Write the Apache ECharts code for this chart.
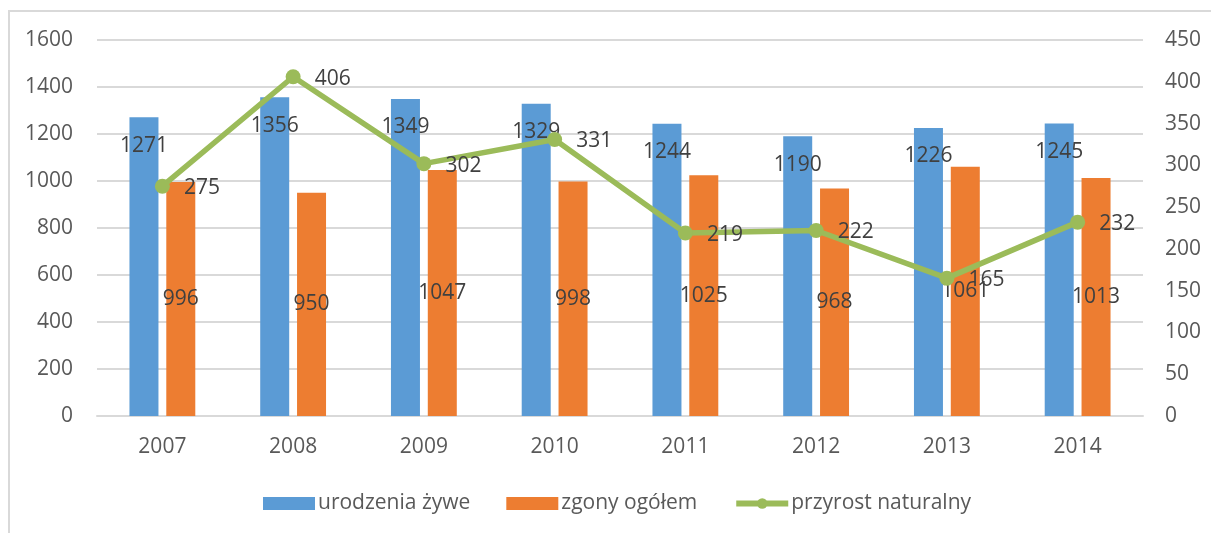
<!DOCTYPE html>
<html>
<head>
<meta charset="utf-8">
<script src="https://cdn.jsdelivr.net/npm/echarts@6/dist/echarts.min.js"></script>
<style>
  html, body { margin: 0; padding: 0; background: #fff; overflow: hidden; }
  #chart { position: absolute; left: 0; top: 0; width: 1211px; height: 533px; }
  #ramka { position: absolute; left: 8px; top: 10px; width: 1260px; height: 600px;
           border: 2px solid #d9d9d9; pointer-events: none; }
</style>
</head>
<body>
<div id="chart"></div>
<div id="ramka"></div>
<script>
// lata
var lata = ['2007', '2008', '2009', '2010', '2011', '2012', '2013', '2014'];
// urodzenia żywe
var urodzenia = [1271, 1356, 1349, 1329, 1244, 1190, 1226, 1245];
// zgony ogółem
var zgony = [996, 950, 1047, 998, 1025, 968, 1061, 1013];
// przyrost naturalny
var przyrost = [275, 406, 302, 331, 219, 222, 165, 232];

var chart = echarts.init(document.getElementById('chart'));
var czcionka = "'Open Sans', 'Noto Sans', sans-serif";

var option = {
    backgroundColor: '#fff',
    animation: false,
    textStyle: { fontFamily: czcionka },
    grid: { left: 97, right: 68, top: 40, bottom: 117 },
    legend: {
        left: 258,
        top: 488,
        itemWidth: 52,
        itemHeight: 13,
        itemGap: 36,
        textStyle: { color: '#595959', fontSize: 21, fontFamily: czcionka, padding: [0, 0, 0, -2] },
        data: [
            { name: 'urodzenia żywe', icon: 'rect' },
            { name: 'zgony ogółem', icon: 'rect' },
            { name: 'przyrost naturalny', lineStyle: { width: 6 } }
        ]
    },
    xAxis: {
        type: 'category',
        data: lata,
        axisLine: { lineStyle: { color: '#d9d9d9', width: 2 } },
        axisTick: { show: false },
        axisLabel: { color: '#595959', fontSize: 21, margin: 21 }
    },
    yAxis: [
        {
            type: 'value',
            min: 0, max: 1600, interval: 200,
            axisLine: { show: false },
            axisTick: { show: false },
            axisLabel: {
                color: '#595959', fontSize: 21, margin: 24,
                formatter: function (v) { return String(v); }
            },
            splitLine: { lineStyle: { color: '#d9d9d9', width: 2 } }
        },
        {
            type: 'value',
            min: 0, max: 450, interval: 50,
            axisLine: { show: false },
            axisTick: { show: false },
            axisLabel: { color: '#595959', fontSize: 21, margin: 22 },
            splitLine: { show: false }
        }
    ],
    series: [
        {
            name: 'urodzenia żywe',
            type: 'bar',
            data: urodzenia,
            barWidth: 29,
            barGap: '27%',
            itemStyle: { color: '#5B9BD5' },
            label: {
                show: true, position: 'insideTop', distance: 18,
                color: '#404040', fontSize: 21
            }
        },
        {
            name: 'zgony ogółem',
            type: 'bar',
            data: zgony,
            barWidth: 29,
            itemStyle: { color: '#ED7D31' },
            label: {
                show: true, position: 'inside',
                color: '#404040', fontSize: 21
            }
        },
        {
            name: 'przyrost naturalny',
            type: 'line',
            yAxisIndex: 1,
            data: przyrost,
            symbol: 'circle',
            symbolSize: 15,
            lineStyle: { color: '#9BBB59', width: 5.5 },
            itemStyle: { color: '#9BBB59' },
            label: {
                show: true, position: 'right', distance: 14, offset: [0, 2],
                color: '#404040', fontSize: 21
            },
            z: 5
        }
    ]
};

chart.setOption(option);
window.addEventListener('resize', function () {
    chart.resize();
});
</script>
</body>
</html>
